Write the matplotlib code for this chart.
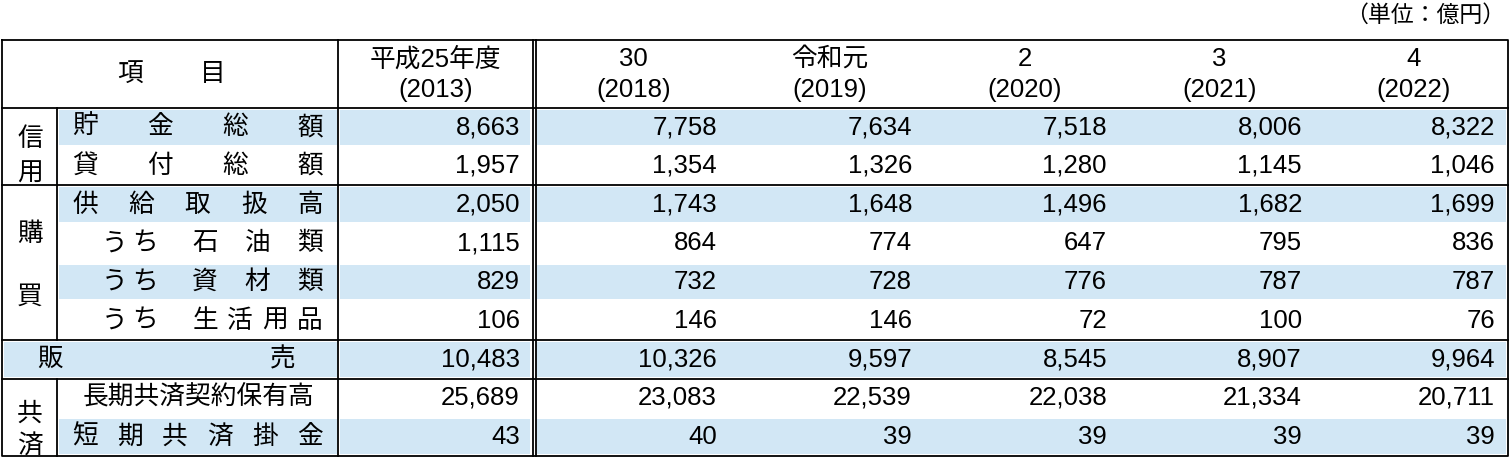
import matplotlib
matplotlib.use("Agg")
import matplotlib.pyplot as plt
from matplotlib.patches import Rectangle

plt.rcParams['font.family'] = ['Noto Sans CJK JP', 'DejaVu Sans']

years_top = ["平成25年度", "30", "令和元", "2", "3", "4"]
years_bot = ["(2013)", "(2018)", "(2019)", "(2020)", "(2021)", "(2022)"]
values = [
    [8663, 7758, 7634, 7518, 8006, 8322],
    [1957, 1354, 1326, 1280, 1145, 1046],
    [2050, 1743, 1648, 1496, 1682, 1699],
    [1115, 864, 774, 647, 795, 836],
    [829, 732, 728, 776, 787, 787],
    [106, 146, 146, 72, 100, 76],
    [10483, 10326, 9597, 8545, 8907, 9964],
    [25689, 23083, 22539, 22038, 21334, 20711],
    [43, 40, 39, 39, 39, 39],
]
shaded = [True, False, True, False, True, False, True, False, True]

W, H = 1510, 458
fig = plt.figure(figsize=(W/100, H/100), dpi=100)
ax = fig.add_axes([0, 0, 1, 1])
ax.set_xlim(0, W); ax.set_ylim(H, 0); ax.axis('off')

FS = 18.5
NUMF = ['Liberation Sans', 'Noto Sans CJK JP']
SH = '#d2e7f5'
top, hb = 40, 108
rh = (456 - hb) / 9
rows_y = [hb + i*rh for i in range(10)]
cols = [338, 533, 730, 925, 1120, 1315, 1508]
L, G = 2, 57

for i, s in enumerate(shaded):
    if not s:
        continue
    y0 = rows_y[i] + 2
    h = rh - 4
    x0 = L + 2 if i == 6 else G + 2
    ax.add_patch(Rectangle((x0, y0), cols[0] - 1 - x0, h, color=SH, lw=0))
    ax.add_patch(Rectangle((cols[0] + 2, y0), cols[1] - 3 - cols[0] - 2, h, color=SH, lw=0))
    ax.add_patch(Rectangle((cols[1] + 4, y0), cols[-1] - 2 - cols[1] - 4, h, color=SH, lw=0))

lw = 1.3
k = 'black'
ax.plot([L, cols[-1], cols[-1], L, L], [top, top, 456, 456, top], color=k, lw=lw)
for y in [hb, rows_y[2], rows_y[6], rows_y[7]]:
    ax.plot([L, cols[-1]], [y, y], color=k, lw=lw)
ax.plot([cols[0]]*2, [top, 456], color=k, lw=lw)
ax.plot([cols[1]]*2, [top, 456], color=k, lw=lw)
ax.plot([cols[1]+3]*2, [top, 456], color=k, lw=lw)
ax.plot([G, G], [hb, rows_y[6]], color=k, lw=lw)
ax.plot([G, G], [rows_y[7], 456], color=k, lw=lw)

ax.text(1505, 15, "（単位：億円）", ha='right', va='center', fontsize=FS-2)

def t(x, y, s, ha='center', fam=None):
    ax.text(x, y, s, ha=ha, va='center', fontsize=FS, family=fam or plt.rcParams['font.family'])

t(130, 74, "項"); t(213, 74, "目")
for j in range(6):
    cx = (cols[j] + cols[j+1]) / 2 + (2 if j else 0)
    t(cx, 59, years_top[j], fam=NUMF); t(cx, 90, years_bot[j], fam=NUMF)

def spread(chars, y, x0=85, x1=310):
    n = len(chars)
    for i, c in enumerate(chars):
        t(x0 + (x1 - x0) * i / (n - 1), y, c)

cy = [rows_y[i] + rh/2 for i in range(9)]
spread("貯金総額", cy[0]); spread("貸付総額", cy[1]); spread("供給取扱高", cy[2])
for r, rest in [(3, "石油類"), (4, "資材類")]:
    t(115, cy[r], "う"); t(145, cy[r], "ち")
    spread(rest, cy[r], 205, 310)
t(115, cy[5], "う"); t(145, cy[5], "ち"); spread("生活用品", cy[5], 205, 310)
t(50, cy[6], "販"); t(283, cy[6], "売")
t(198, cy[7], "長期共済契約保有高")
spread("短期共済掛金", cy[8])
t(30, 139, "信"); t(30, 174, "用")
t(30, 234, "購"); t(30, 297, "買")
t(30, 414, "共"); t(30, 446, "済")

for i, row in enumerate(values):
    for j, v in enumerate(row):
        t(cols[j+1] - 13, cy[i], f"{v:,}", ha='right', fam=NUMF)

fig.savefig("out.png", dpi=100)
